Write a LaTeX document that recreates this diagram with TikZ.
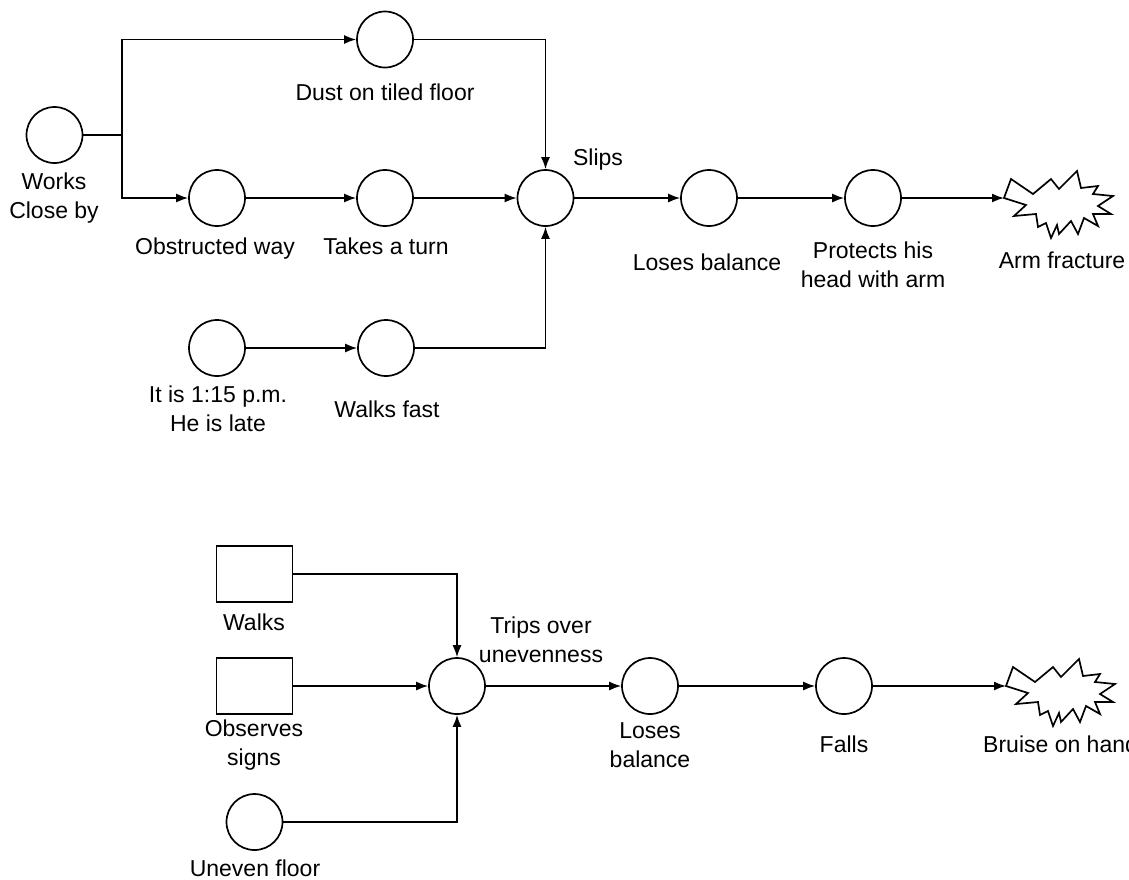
\documentclass[tikz,border=0pt]{standalone}
\usepackage{fontspec}
\setmainfont{Liberation Sans}
\usetikzlibrary{arrows.meta}
\newcommand{\lbfont}{\fontsize{23}{29}\selectfont}
% star shaped outcome mark, #1 = its left tip
\newcommand{\injury}[1]{%
  \draw[burstline, shift={#1}] (0,0) -- (22,7) -- (10,18) -- (32,16) -- (34,29) -- (42,25)
    -- (47,40) -- (53,27) -- (55,36) -- (67,23) -- (74,36) -- (80,20) -- (94,28)
    -- (89,16) -- (107,16) -- (94,8) -- (109,-2) -- (89,-4) -- (94,-12) -- (77,-10)
    -- (73,-27) -- (55,-9) -- (47,-19) -- (29,-4) -- (7,-19) -- cycle;}

\begin{document}
\begin{tikzpicture}[x=1pt, y=-1pt,
ev/.style = {circle, draw, line width=1.7pt, minimum size=56pt, inner sep=0pt},
cond/.style = {draw, line width=1.7pt, minimum width=76pt, minimum height=56pt, inner sep=0pt},
lbl/.style = {anchor=base, align=center, inner sep=0pt, font=\lbfont},
link/.style = {line width=1.6pt, -{Latex[length=12pt,width=9pt]}},
burstline/.style = {line width=1.7pt, line join=miter}
                ]
    \path[fill=white, use as bounding box] (0,0) rectangle (1129,879);

    % slipping accident
    \foreach \x/\y/\e in {54.5/135/works, 385/39.5/dust, 217/198/obst, 385/198/turn,
                          545.5/198/slip, 217/348/time, 386/348/fast, 709/198/lose, 873/198/prot}
        \node[ev] at (\x,\y) (\e) {};
    \coordinate (split) at (122,135);
    \coordinate (frac) at (1004,198);
    \injury{(frac)}

    \node[lbl] at (54,218) (lworks) {Works\\Close by};
    \node[lbl] at (385,100) (ldust) {Dust on tiled floor};
    \node[lbl] at (215,254) (lobst) {Obstructed way};
    \node[lbl] at (386,254) (lturn) {Takes a turn};
    \node[lbl] at (598,165) (lslip) {Slips};
    \node[lbl] at (218,431) (ltime) {It is 1:15 p.m.\\He is late};
    \node[lbl] at (387,417) (lfast) {Walks fast};
    \node[lbl] at (707,270) (llose) {Loses balance};
    \node[lbl] at (873,287) (lprot) {Protects his\\head with arm};
    \node[lbl] at (1062,268) (lfrac) {Arm fracture};

    \draw[line width=1.6pt] (works) -- (split);
    \draw[link] (split) |- (dust);
    \draw[link] (split) |- (obst);
    \draw[link] (obst) -- (turn);
    \draw[link] (turn) -- (slip);
    \draw[link] (dust) -| (slip);
    \draw[link] (time) -- (fast);
    \draw[link] (fast) -| (slip);
    \draw[link] (slip) -- (lose);
    \draw[link] (lose) -- (prot);
    \draw[link] (prot) -- (frac);

    % tripping accident
    \foreach \y/\e in {574/walk, 686/obs}
        \node[cond] at (254.5,\y) (\e) {};
    \foreach \x/\y/\e in {254.5/822/uneven, 457/686/trip, 650/686/lose2, 844/686/fall}
        \node[ev] at (\x,\y) (\e) {};
    \coordinate (bruise) at (1006,686);
    \injury{(bruise)}

    \node[lbl] at (254,630) (lwalk) {Walks};
    \node[lbl] at (254,765) (lobs) {Observes\\signs};
    \node[lbl] at (255,876) (luneven) {Uneven floor};
    \node[lbl] at (541,662) (ltrip) {Trips over\\unevenness};
    \node[lbl] at (650,767) (llose2) {Loses\\balance};
    \node[lbl] at (844,752) (lfall) {Falls};
    \node[lbl, anchor=base west] at (983,752) (lbruise) {Bruise on hand};

    \draw[link] (walk) -| (trip);
    \draw[link] (obs) -- (trip);
    \draw[link] (uneven) -| (trip);
    \draw[link] (trip) -- (lose2);
    \draw[link] (lose2) -- (fall);
    \draw[link] (fall) -- (bruise);
\end{tikzpicture}
\end{document}
